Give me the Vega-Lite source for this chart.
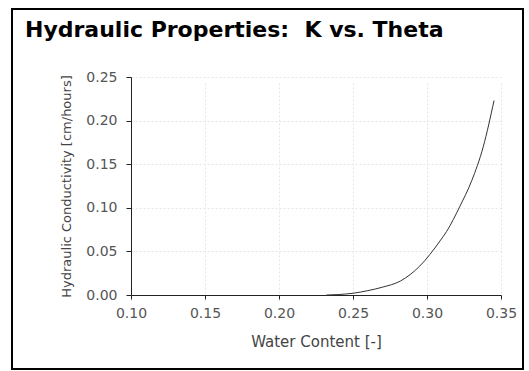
{
  "$schema": "https://vega.github.io/schema/vega-lite/v6.json",
  "width": 511,
  "height": 360,
  "autosize": {"type": "none"},
  "padding": {"left": 12, "top": 9, "right": 6, "bottom": 2},
  "background": "#ffffff",
  "title": {
    "text": "Hydraulic Properties:\u00a0 K vs. Theta",
    "anchor": "start",
    "frame": "group",
    "orient": "top",
    "font": "DejaVu Sans",
    "fontWeight": "bold",
    "fontSize": 22,
    "color": "#000000",
    "offset": 0,
    "dx": 13,
    "dy": 33
  },
  "config": {
    "view": {"stroke": "#000000", "strokeWidth": 2, "fill": "#ffffff"},
    "axis": {
      "labelFont": "DejaVu Sans",
      "titleFont": "DejaVu Sans",
      "labelFontSize": 14,
      "labelColor": "#555555",
      "titleColor": "#444444",
      "titleFontWeight": "normal",
      "domainColor": "#222222",
      "tickColor": "#222222",
      "gridColor": "#e6e6e6",
      "gridDash": [2, 2],
      "labelFlush": false,
      "labelOverlap": false,
      "labelBound": false
    }
  },
  "data": {
    "values": [
      {"theta": 0.232, "K": 0.0},
      {"theta": 0.240, "K": 0.0005},
      {"theta": 0.250, "K": 0.002},
      {"theta": 0.260, "K": 0.005},
      {"theta": 0.270, "K": 0.009},
      {"theta": 0.282, "K": 0.016},
      {"theta": 0.295, "K": 0.033},
      {"theta": 0.3088, "K": 0.062},
      {"theta": 0.3133, "K": 0.073},
      {"theta": 0.3223, "K": 0.102},
      {"theta": 0.3302, "K": 0.131},
      {"theta": 0.338, "K": 0.17},
      {"theta": 0.3453, "K": 0.223}
    ]
  },
  "mark": {"type": "line", "color": "#333333", "strokeWidth": 1, "interpolate": "monotone"},
  "encoding": {
    "x": {
      "field": "theta",
      "type": "quantitative",
      "scale": {"domain": [0.1, 0.35], "range": [119, 489], "nice": false, "zero": false},
      "axis": {
        "title": "Water Content [-]",
        "values": [0.1, 0.15, 0.2, 0.25, 0.3, 0.35],
        "format": ".2f",
        "offset": -74,
        "tickSize": 4,
        "labelPadding": 7,
        "titleFontSize": 15,
        "titlePadding": 14
      }
    },
    "y": {
      "field": "K",
      "type": "quantitative",
      "scale": {"domain": [0, 0.25], "range": [286, 68], "nice": false, "zero": false},
      "axis": {
        "title": "Hydraulic Conductivity [cm/hours]",
        "values": [0, 0.05, 0.1, 0.15, 0.2, 0.25],
        "format": ".2f",
        "offset": -119,
        "tickSize": 5,
        "labelPadding": 9,
        "titleFontSize": 13,
        "titlePadding": 12
      }
    }
  }
}
